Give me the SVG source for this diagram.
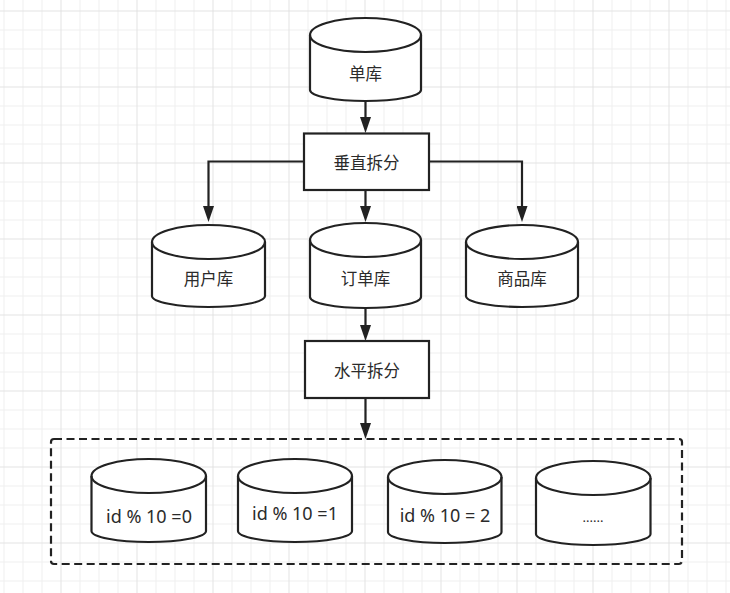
<svg xmlns="http://www.w3.org/2000/svg" width="730" height="593" viewBox="0 0 730 593">
<defs>
<pattern id="grid" patternUnits="userSpaceOnUse" x="-15.5" y="10.5" width="76" height="76">
<rect x="0" y="0" width="76" height="76" fill="#ffffff"/>
<rect x="19" y="0" width="1" height="76" fill="#efefef"/>
<rect x="38" y="0" width="1" height="76" fill="#efefef"/>
<rect x="57" y="0" width="1" height="76" fill="#efefef"/>
<rect x="0" y="19" width="76" height="1" fill="#efefef"/>
<rect x="0" y="38" width="76" height="1" fill="#efefef"/>
<rect x="0" y="57" width="76" height="1" fill="#efefef"/>
<rect x="0" y="0" width="1" height="76" fill="#e2e2e2"/>
<rect x="0" y="0" width="76" height="1" fill="#e2e2e2"/>
</pattern>
<marker id="arrow" markerUnits="userSpaceOnUse" viewBox="0 0 16 11" refX="8" refY="5.5" markerWidth="16" markerHeight="11" orient="auto">
<path d="M0,0 L16,5.5 L0,11 Z" fill="#222"/>
</marker>
</defs>
<style>
.shape{fill:#ffffff;stroke:#222;stroke-width:2.2}
.inner{fill:none;stroke:#222;stroke-width:2.2}
.edge{fill:none;stroke:#222;stroke-width:2.2;marker-end:url(#arrow)}
.cn{font-family:"Noto Sans CJK SC","Noto Sans",sans-serif;font-size:16.5px;fill:#2b2b2b;text-anchor:middle;dominant-baseline:central}
.lat{font-family:"Noto Sans","Noto Sans CJK SC",sans-serif;font-size:18px;fill:#2b2b2b;text-anchor:middle;dominant-baseline:central}
.dash{fill:none;stroke:#222;stroke-width:2.2;stroke-dasharray:8 4.5}
</style>
<rect x="0" y="0" width="730" height="593" fill="url(#grid)"/>

<g id="container">
<rect class="dash" x="51" y="439" width="631" height="125" rx="3"/>
</g>

<g id="connectors">
<path class="edge" d="M365.5,101 L365.5,125"/>
<path class="edge" d="M304,161.5 L208.5,161.5 L208.5,214"/>
<path class="edge" d="M429,161.5 L522,161.5 L522,214"/>
<path class="edge" d="M365.5,190 L365.5,214"/>
<path class="edge" d="M365.5,308 L365.5,333"/>
<path class="edge" d="M365.5,398 L365.5,431"/>
</g>

<g id="db-single">
<path class="shape" d="M310,35 A55.5,17 0 0 1 421,35 L421,90 A55.5,11 0 0 1 310,90 Z"/>
<path class="inner" d="M310,35 A55.5,17 0 0 0 421,35"/>
<text class="cn" x="365.5" y="73">单库</text>
</g>

<g id="vertical-split">
<rect class="shape" x="304" y="133.5" width="125" height="56.5"/>
<text class="cn" x="366.5" y="161.5">垂直拆分</text>
</g>

<g id="db-user">
<path class="shape" d="M152,242 A56.5,17 0 0 1 265,242 L265,296 A56.5,11 0 0 1 152,296 Z"/>
<path class="inner" d="M152,242 A56.5,17 0 0 0 265,242"/>
<text class="cn" x="208.5" y="278">用户库</text>
</g>

<g id="db-order">
<path class="shape" d="M310,240 A55.5,17 0 0 1 421,240 L421,297 A55.5,11 0 0 1 310,297 Z"/>
<path class="inner" d="M310,240 A55.5,17 0 0 0 421,240"/>
<text class="cn" x="365.5" y="278">订单库</text>
</g>

<g id="db-goods">
<path class="shape" d="M466,242 A56,17 0 0 1 578,242 L578,296 A56,11 0 0 1 466,296 Z"/>
<path class="inner" d="M466,242 A56,17 0 0 0 578,242"/>
<text class="cn" x="522" y="278">商品库</text>
</g>

<g id="horizontal-split">
<rect class="shape" x="305" y="341" width="124" height="57"/>
<text class="cn" x="367" y="369.5">水平拆分</text>
</g>

<g id="shard-0">
<path class="shape" d="M91.5,476 A57.25,17 0 0 1 206,476 L206,531 A57.25,11 0 0 1 91.5,531 Z"/>
<path class="inner" d="M91.5,476 A57.25,17 0 0 0 206,476"/>
<text class="lat" x="149" y="516">id % 10 =0</text>
</g>

<g id="shard-1">
<path class="shape" d="M238,476 A57,17 0 0 1 352,476 L352,531 A57,11 0 0 1 238,531 Z"/>
<path class="inner" d="M238,476 A57,17 0 0 0 352,476"/>
<text class="lat" x="295" y="513">id % 10 =1</text>
</g>

<g id="shard-2">
<path class="shape" d="M388,477 A56.75,17 0 0 1 501.5,477 L501.5,532 A56.75,11 0 0 1 388,532 Z"/>
<path class="inner" d="M388,477 A56.75,17 0 0 0 501.5,477"/>
<text class="lat" x="445" y="515">id % 10 = 2</text>
</g>

<g id="shard-more">
<path class="shape" d="M536,478 A57.25,17 0 0 1 650.5,478 L650.5,534 A57.25,11 0 0 1 536,534 Z"/>
<path class="inner" d="M536,478 A57.25,17 0 0 0 650.5,478"/>
<text class="lat" x="593" y="517" style="font-size:13px">......</text>
</g>
</svg>
